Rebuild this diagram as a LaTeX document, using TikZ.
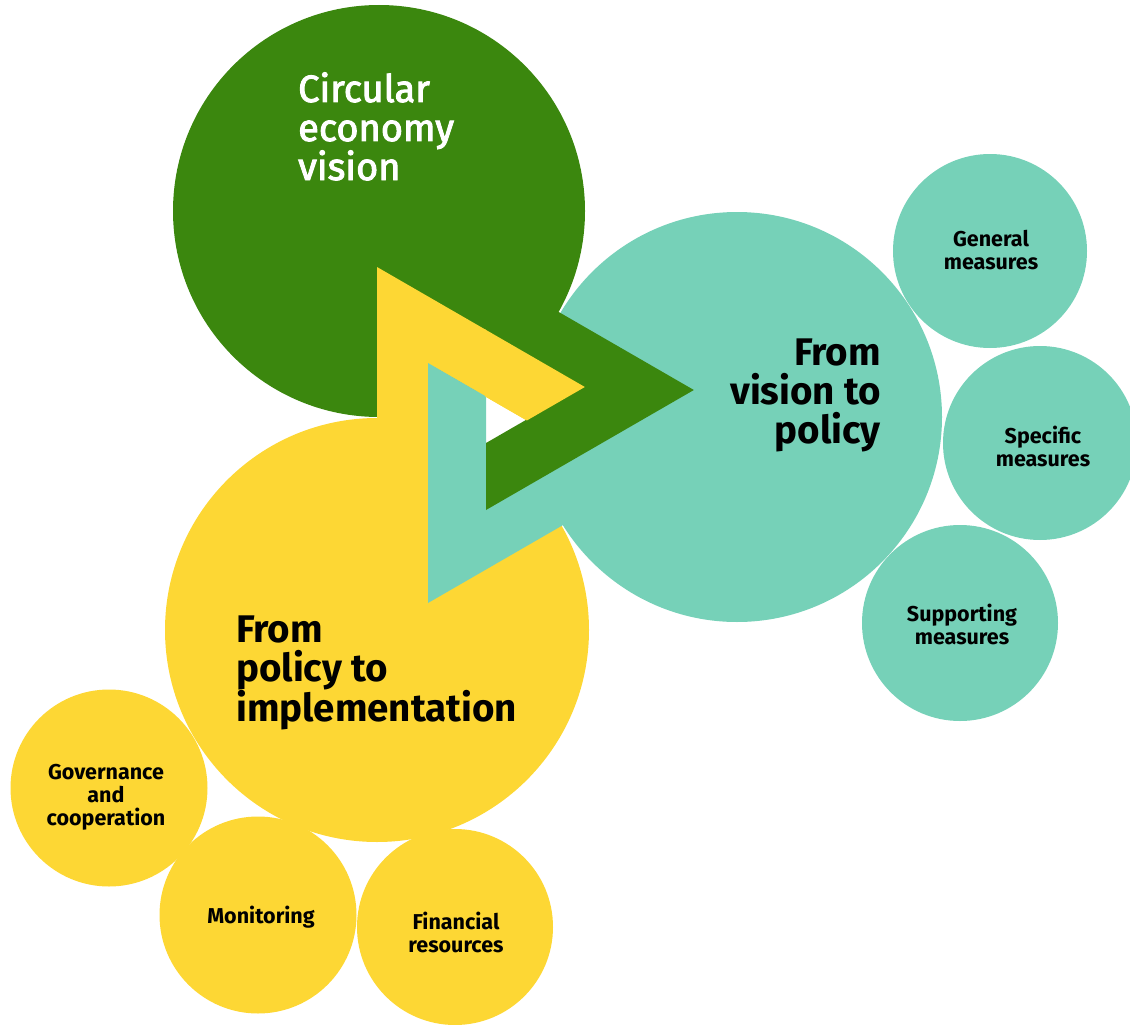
\documentclass[tikz,border=0pt]{standalone}
\usepackage{fontspec}
\setmainfont{Fira Sans}
\newfontfamily\medfont[FakeBold=2.5]{Fira Sans}
\definecolor{cgreen}{HTML}{3B870E}
\definecolor{cteal}{HTML}{76D1B8}
\definecolor{cyellow}{HTML}{FDD734}
\newcommand\yelarrow{(377,507) -- (377,267) -- (584.85,387) -- (526.85,420.49) -- (435,367.46) -- (435,473.51) -- cycle}
\newcommand\tealarrow{(428,363) -- (428,603) -- (635.85,483) -- (577.85,449.51) -- (486,502.54) -- (486,396.49) -- cycle}
\newcommand\grnarrow{(486,270) -- (693.85,390) -- (486,510) -- (486,443.03) -- (577.85,390) -- (486,336.97) -- cycle}
\begin{document}
\begin{tikzpicture}[x=1pt,y=-1pt,
  bubble/.style={circle,inner sep=0pt,outer sep=0pt,draw=none},
  biglabel/.style={inner sep=0pt,font=\bfseries\fontsize{38.5}{39}\selectfont},
  smalllabel/.style={inner sep=0pt,align=center,font=\bfseries\fontsize{21.5}{23}\selectfont}]
\useasboundingbox (0,0) rectangle (1130,1025);
% main circles
\node[bubble,fill=cgreen,minimum size=412pt] (vision) at (379,211) {};
\node[bubble,fill=cteal,minimum size=410pt] (policy) at (737,417) {};
\node[bubble,fill=cyellow,minimum size=424pt] (impl) at (377,630) {};
% small teal circles
\node[bubble,fill=cteal,minimum size=194pt] (general) at (990,251) {};
\node[bubble,fill=cteal,minimum size=194pt] (specific) at (1040,443) {};
\node[bubble,fill=cteal,minimum size=196pt] (supporting) at (960,623) {};
% small yellow circles
\node[bubble,fill=cyellow,minimum size=197pt] (governance) at (109,788) {};
\node[bubble,fill=cyellow,minimum size=197pt] (monitoring) at (258,915) {};
\node[bubble,fill=cyellow,minimum size=196pt] (financial) at (455,927) {};
% interlocking arrows
\fill[cyellow] \yelarrow;
\fill[cteal] \tealarrow;
\fill[cgreen] \grnarrow;
\begin{scope}
  \clip (485,0) rectangle (700,1025);
  \fill[cyellow] \yelarrow;
\end{scope}
% labels
\node[anchor=base west,inner sep=0pt,text=white,font=\medfont\fontsize{38}{39}\selectfont] (tvision) at (298,102)
  {\parbox[t]{220pt}{\raggedright Circular\\economy\\vision}};
\node[biglabel,anchor=base east] (tpolicy) at (881,365)
  {\parbox[t]{250pt}{\raggedleft From\\vision to\\policy}};
\node[biglabel,anchor=base west] (timpl) at (236,642)
  {\parbox[t]{350pt}{\raggedright From\\policy to\\implementation}};
\node[smalllabel] (tgeneral) at (991,250) {General\\measures};
\node[smalllabel] (tspecific) at (1043,446) {Specific\\measures};
\node[smalllabel] (tsupporting) at (962,624) {Supporting\\measures};
\node[smalllabel] (tgovernance) at (106,797) {Governance\\and\\cooperation};
\node[smalllabel] (tmonitoring) at (261,917) {Monitoring};
\node[smalllabel] (tfinancial) at (456,932) {Financial\\resources};
\end{tikzpicture}
\end{document}
